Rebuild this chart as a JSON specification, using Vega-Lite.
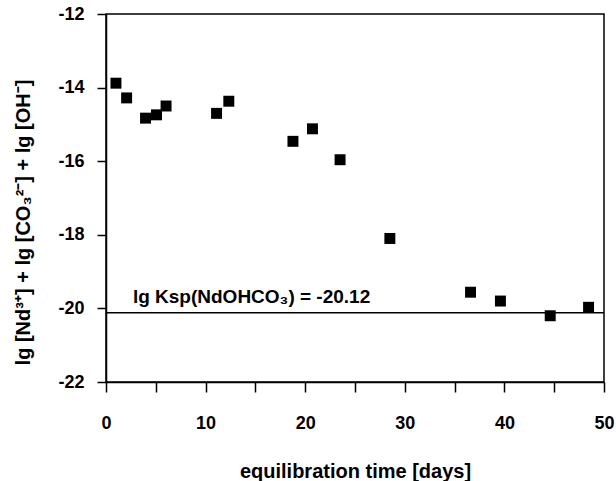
{
  "$schema": "https://vega.github.io/schema/vega-lite/v6.json",
  "width": 498,
  "height": 368,
  "autosize": {"type": "none"},
  "padding": {"left": 106, "top": 14, "right": 12, "bottom": 99},
  "background": "white",
  "config": {
    "view": {"stroke": "black", "strokeWidth": 1.5},
    "font": "Liberation Sans",
    "axis": {
      "grid": false,
      "domainColor": "black",
      "domainWidth": 1.5,
      "tickColor": "black",
      "tickWidth": 1.5,
      "labelColor": "black",
      "titleColor": "black",
      "labelFont": "Liberation Sans",
      "titleFont": "Liberation Sans",
      "labelFontSize": 18,
      "titleFontSize": 20,
      "labelFontWeight": "bold",
      "titleFontWeight": "bold"
    }
  },
  "datasets": {
    "pts": [
      {"days": 1.0, "value": -13.88},
      {"days": 2.07, "value": -14.28},
      {"days": 3.97, "value": -14.83},
      {"days": 5.07, "value": -14.74},
      {"days": 6.03, "value": -14.5},
      {"days": 11.1, "value": -14.7},
      {"days": 12.33, "value": -14.37},
      {"days": 18.77, "value": -15.46},
      {"days": 20.73, "value": -15.12},
      {"days": 23.5, "value": -15.96},
      {"days": 28.5, "value": -18.1},
      {"days": 36.6, "value": -19.56},
      {"days": 39.6, "value": -19.8},
      {"days": 44.6, "value": -20.2},
      {"days": 48.45, "value": -19.97}
    ],
    "ksp": [{"value": -20.12, "days": 2.7, "labelY": -19.86, "label": "lg Ksp(NdOHCO₃) = -20.12"}]
  },
  "layer": [
    {
      "data": {"name": "ksp"},
      "mark": {"type": "rule", "color": "black", "strokeWidth": 1.5},
      "encoding": {
        "y": {"field": "value", "type": "quantitative", "scale": {"domain": [-22, -12], "nice": false}}
      }
    },
    {
      "data": {"name": "pts"},
      "mark": {"type": "square", "filled": true, "color": "black", "size": 120, "opacity": 1},
      "encoding": {
        "x": {
          "field": "days", "type": "quantitative",
          "scale": {"domain": [0, 50], "nice": false, "zero": false},
          "axis": {
            "title": "equilibration time [days]",
            "values": [0, 5, 10, 15, 20, 25, 30, 35, 40, 45, 50],
            "labelExpr": "datum.value % 10 === 0 ? toString(datum.value) : ''",
            "tickSize": 10,
            "labelPadding": 22,
            "titlePadding": 29,
            "labelFlush": false,
            "labelOverlap": false
          }
        },
        "y": {
          "field": "value", "type": "quantitative",
          "scale": {"domain": [-22, -12], "nice": false, "zero": false},
          "axis": {
            "title": "lg [Nd³⁺] + lg [CO₃²⁻] + lg [OH⁻]",
            "values": [-22, -20, -18, -16, -14, -12],
            "labelExpr": "toString(datum.value)",
            "tickSize": 9,
            "labelPadding": 13,
            "titleX": -83,
            "titleY": 208,
            "titleBaseline": "middle",
            "labelFlush": false,
            "labelOverlap": false
          }
        }
      }
    },
    {
      "data": {"name": "ksp"},
      "mark": {"type": "text", "align": "left", "baseline": "alphabetic", "fontSize": 19, "fontWeight": "bold", "font": "Liberation Sans", "color": "black"},
      "encoding": {
        "x": {"field": "days", "type": "quantitative"},
        "y": {"field": "labelY", "type": "quantitative"},
        "text": {"field": "label"}
      }
    }
  ]
}
